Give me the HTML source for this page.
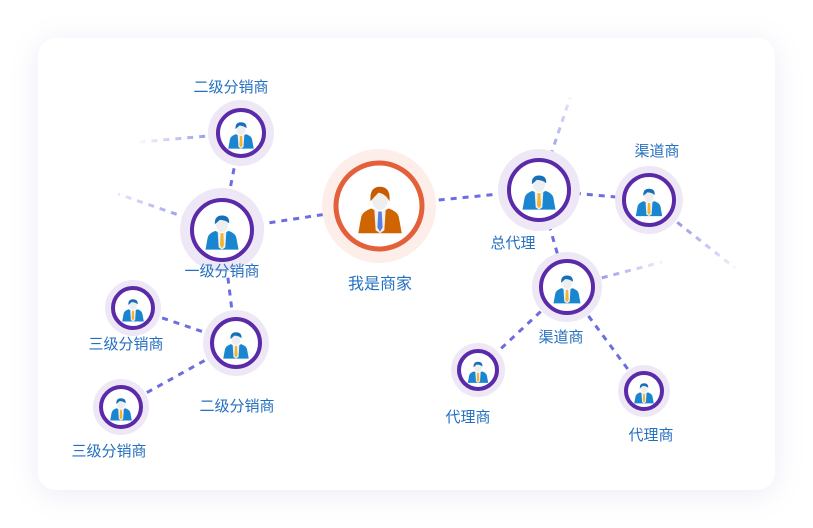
<!DOCTYPE html>
<html><head><meta charset="utf-8"><style>
html,body{margin:0;padding:0;background:#fff;}
body{width:813px;height:528px;overflow:hidden;position:relative;font-family:"Liberation Sans","Noto Sans CJK SC",sans-serif;}
.card{position:absolute;left:38px;top:38px;width:737px;height:452px;border-radius:18px;background:#fff;box-shadow:0 4px 28px rgba(120,130,200,0.15);}
svg{position:absolute;left:0;top:0;}
text{font-family:"Liberation Sans","Noto Sans CJK SC",sans-serif;font-size:15px;fill:#2470c0;text-anchor:middle;}
</style></head><body>
<div class="card"></div>
<svg width="813" height="528" viewBox="0 0 813 528">
<defs>
<g id="p">
 <path d="M-15 16 L-13 5 Q-12 1 -6 -1 L0 2 L6 -1 Q12 1 13 5 L15 16 Z" fill="#1a86d0"/>
 <path d="M-4 -1 L0 2 L4 -1 L3 14 L0 16 L-3 14Z" fill="#f0f0f0"/>
 <path d="M-1.2 1 L1.2 1 L1.8 12 L0 15 L-1.8 12Z" fill="#f2b431"/>
 <ellipse cx="0" cy="-7" rx="5.5" ry="7" fill="#eeeeee"/>
 <path d="M-6.5 -7 Q-7 -15 0 -15 Q7 -15 6.5 -8 Q3 -11 -2 -11 Q-4 -9 -6.5 -7Z" fill="#1670b8"/>
</g>
<g id="po">
 <path d="M-15 16 L-13 5 Q-12 1 -6 -1 L0 2 L6 -1 Q12 1 13 5 L15 16 Z" fill="#d06400"/>
 <path d="M-4 -1 L0 2 L4 -1 L3 14 L0 16 L-3 14Z" fill="#f0f0f0"/>
 <path d="M-1.2 1 L1.2 1 L1.8 12 L0 15 L-1.8 12Z" fill="#5a7ee0"/>
 <ellipse cx="0" cy="-7" rx="5.5" ry="7" fill="#eeeeee"/>
 <path d="M-6.5 -6 Q-7.5 -16 0 -16 Q7.5 -16 6.5 -6 Q4 -11 -1 -12 Q-4 -9 -6.5 -6Z" fill="#c85a00"/>
</g>
<linearGradient id="g1" gradientUnits="userSpaceOnUse" x1="241" y1="133" x2="140" y2="142"><stop offset="0" stop-color="#6b6de0"/><stop offset="1" stop-color="#6b6de0" stop-opacity="0.05"/></linearGradient>
<linearGradient id="g2" gradientUnits="userSpaceOnUse" x1="222" y1="230" x2="118" y2="194"><stop offset="0" stop-color="#6b6de0"/><stop offset="1" stop-color="#6b6de0" stop-opacity="0.15"/></linearGradient>
<linearGradient id="g3" gradientUnits="userSpaceOnUse" x1="539" y1="190" x2="570" y2="98"><stop offset="0" stop-color="#6b6de0"/><stop offset="1" stop-color="#6b6de0" stop-opacity="0.15"/></linearGradient>
<linearGradient id="g4" gradientUnits="userSpaceOnUse" x1="649" y1="200" x2="735" y2="268"><stop offset="0" stop-color="#6b6de0"/><stop offset="1" stop-color="#6b6de0" stop-opacity="0.1"/></linearGradient>
<linearGradient id="g5" gradientUnits="userSpaceOnUse" x1="567" y1="287" x2="662" y2="262"><stop offset="0" stop-color="#6b6de0"/><stop offset="1" stop-color="#6b6de0" stop-opacity="0.1"/></linearGradient>
</defs>
<g stroke="#6b6de0" stroke-width="3" stroke-dasharray="6 6" fill="none">
 <line x1="241" y1="133" x2="222" y2="230"/>
 <line x1="222" y1="230" x2="379" y2="206"/>
 <line x1="222" y1="230" x2="236" y2="343"/>
 <line x1="236" y1="343" x2="133" y2="308"/>
 <line x1="236" y1="343" x2="121" y2="407"/>
 <line x1="379" y1="206" x2="539" y2="190"/>
 <line x1="539" y1="190" x2="649" y2="200"/>
 <line x1="539" y1="190" x2="567" y2="287"/>
 <line x1="567" y1="287" x2="478" y2="370"/>
 <line x1="567" y1="287" x2="644" y2="391"/>
 <line x1="241" y1="133" x2="140" y2="142" stroke="url(#g1)"/>
 <line x1="222" y1="230" x2="118" y2="194" stroke="url(#g2)"/>
 <line x1="539" y1="190" x2="570" y2="98" stroke="url(#g3)"/>
 <line x1="649" y1="200" x2="735" y2="268" stroke="url(#g4)"/>
 <line x1="567" y1="287" x2="662" y2="262" stroke="url(#g5)"/>
</g>
<circle cx="379" cy="206" r="57" fill="#fdeeea"/>
<circle cx="379" cy="206" r="43" fill="#fff" stroke="#e4603a" stroke-width="5"/>
<use href="#po" transform="translate(380,210) scale(1.45)"/>
<g fill="#fff" stroke="#5a2aa8">
 <circle cx="222" cy="230" r="42" fill="#eee8f6" stroke="none"/><circle cx="222" cy="230" r="30" stroke-width="4"/>
 <circle cx="241" cy="133" r="33" fill="#eee8f6" stroke="none"/><circle cx="241" cy="133" r="23" stroke-width="4"/>
 <circle cx="236" cy="343" r="33" fill="#eee8f6" stroke="none"/><circle cx="236" cy="343" r="24" stroke-width="4"/>
 <circle cx="133" cy="308" r="28" fill="#eee8f6" stroke="none"/><circle cx="133" cy="308" r="20" stroke-width="4"/>
 <circle cx="121" cy="407" r="28" fill="#eee8f6" stroke="none"/><circle cx="121" cy="407" r="20" stroke-width="4"/>
 <circle cx="539" cy="190" r="41" fill="#eee8f6" stroke="none"/><circle cx="539" cy="190" r="30" stroke-width="4"/>
 <circle cx="649" cy="200" r="34" fill="#eee8f6" stroke="none"/><circle cx="649" cy="200" r="25" stroke-width="4"/>
 <circle cx="567" cy="287" r="35" fill="#eee8f6" stroke="none"/><circle cx="567" cy="287" r="26" stroke-width="4"/>
 <circle cx="478" cy="370" r="27" fill="#eee8f6" stroke="none"/><circle cx="478" cy="370" r="19" stroke-width="4"/>
 <circle cx="644" cy="391" r="26" fill="#eee8f6" stroke="none"/><circle cx="644" cy="391" r="18" stroke-width="4"/>
</g>
<use href="#p" transform="translate(222,232) scale(1.1)"/>
<use href="#p" transform="translate(241,135) scale(0.85)"/>
<use href="#p" transform="translate(236,345) scale(0.85)"/>
<use href="#p" transform="translate(133,310) scale(0.72)"/>
<use href="#p" transform="translate(121,409) scale(0.72)"/>
<use href="#p" transform="translate(539,192) scale(1.1)"/>
<use href="#p" transform="translate(649,202) scale(0.88)"/>
<use href="#p" transform="translate(567,289) scale(0.9)"/>
<use href="#p" transform="translate(478,372) scale(0.68)"/>
<use href="#p" transform="translate(644,393) scale(0.65)"/>
<text x="231" y="92">二级分销商</text>
<text x="222" y="276">一级分销商</text>
<text x="380" y="289" style="font-size:16px">我是商家</text>
<text x="126" y="349">三级分销商</text>
<text x="237" y="411">二级分销商</text>
<text x="109" y="456">三级分销商</text>
<text x="513" y="248">总代理</text>
<text x="657" y="156">渠道商</text>
<text x="561" y="342">渠道商</text>
<text x="468" y="422">代理商</text>
<text x="651" y="440">代理商</text>
</svg>
</body></html>
